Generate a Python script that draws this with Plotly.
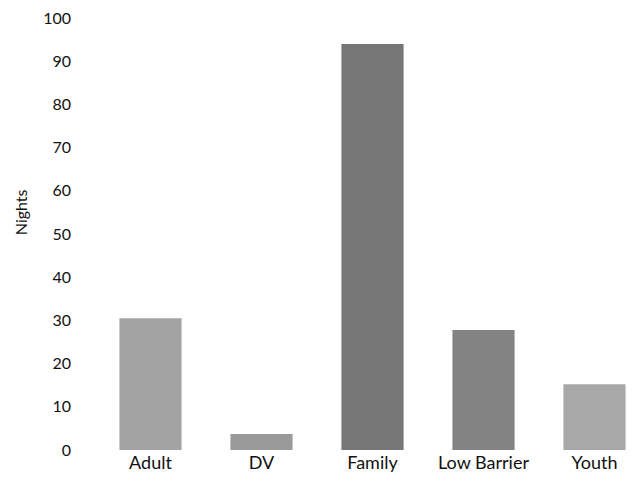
import plotly.graph_objects as go

categories = ["Adult", "DV", "Family", "Low Barrier", "Youth"]
nights = [30.5, 3.7, 94, 27.8, 15.2]
bar_colors = ["#a3a3a3", "#9a9a9a", "#777777", "#838383", "#a8a8a8"]
y_ticks = [0, 10, 20, 30, 40, 50, 60, 70, 80, 90, 100]

fig = go.Figure()
fig.add_trace(go.Bar(
    x=categories,
    y=nights,
    marker=dict(color=bar_colors, line=dict(width=0)),
))

fam = "Lato, Carlito, 'Open Sans', sans-serif"
xfont = dict(family=fam, size=18, color="#111111")
yfont = dict(family=fam, size=16, color="#111111")
tfont = dict(family=fam, size=16, color="#111111")

fig.update_layout(
    width=637, height=492,
    margin=dict(l=87, r=0, t=6, b=50),
    paper_bgcolor="white", plot_bgcolor="white",
    bargap=0.44,
    showlegend=False,
    xaxis=dict(
        range=[-0.5, 4.455],
        showline=False, showgrid=False, zeroline=False,
        ticks="", tickfont=xfont, ticklabelstandoff=0,
    ),
    yaxis=dict(
        range=[0, 100],
        tickvals=y_ticks,
        showline=False, showgrid=False, zeroline=False,
        ticks="", ticklabelstandoff=23,
        ticklabeloverflow="allow",
        tickfont=yfont,
    ),
    annotations=[dict(
        text="Nights", textangle=-90, showarrow=False,
        xref="paper", yref="paper",
        x=(12 - 87) / 550, y=(442 - 202) / 436,
        xanchor="center", yanchor="middle",
        font=tfont,
    )],
)

fig.write_html("out.html")
